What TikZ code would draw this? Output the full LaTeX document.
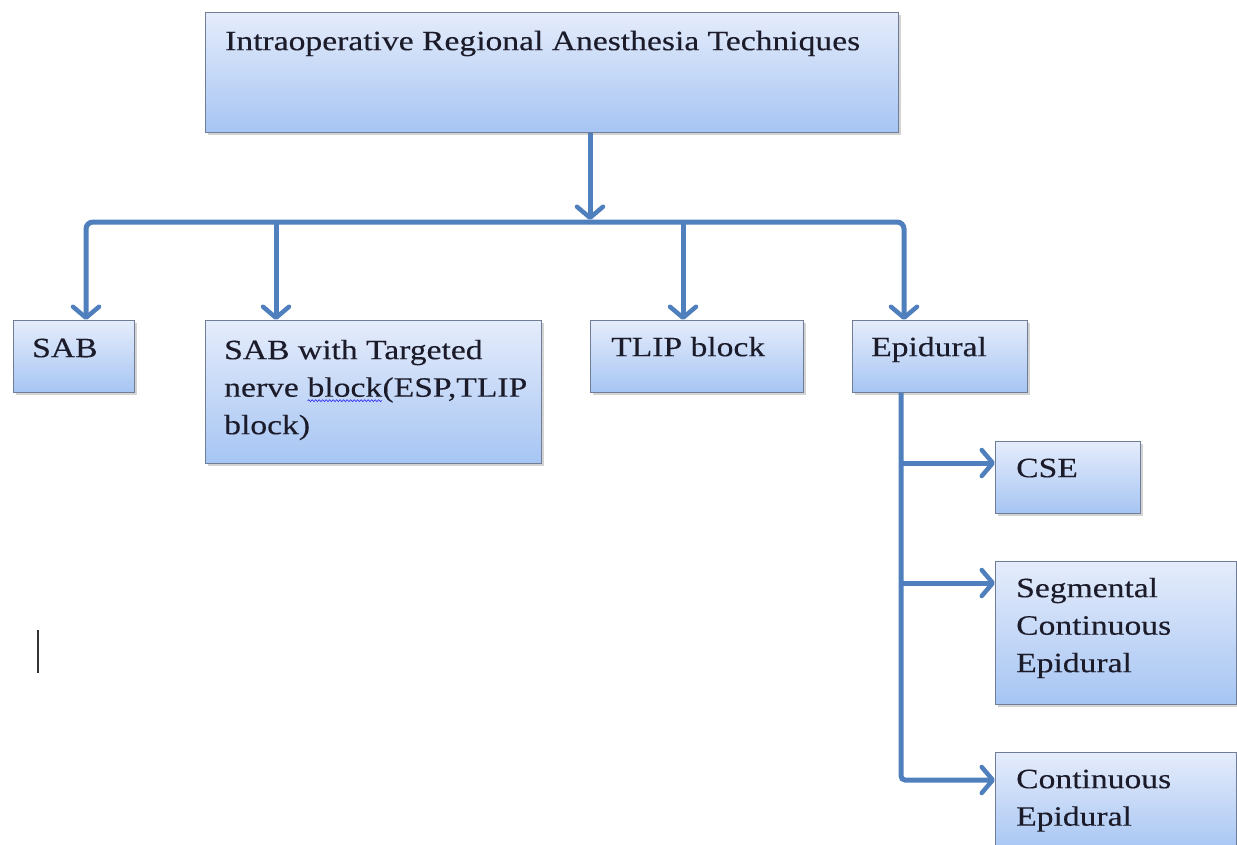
\documentclass[tikz,border=0pt]{standalone}
\usepackage{fontspec}
\setmainfont[FakeStretch=1.2,FakeBold=0.25]{Liberation Serif}
\usetikzlibrary{shadows,arrows.meta,decorations.pathmorphing}
\definecolor{boxtop}{HTML}{E5ECFB}
\definecolor{boxbot}{HTML}{A6C5F3}
\definecolor{boxborder}{HTML}{6F7E96}
\definecolor{linecol}{HTML}{4F7FBC}
\definecolor{textcol}{HTML}{1B1B2A}
\newcommand\spellwave[1]{\tikz[baseline=(w.base)]{\node[inner sep=0pt,outer sep=0pt](w){#1};\draw[blue!80, line width=0.7pt, decorate, decoration={snake, amplitude=0.9pt, segment length=3.5pt}] ([yshift=-4pt]w.base west) -- ([yshift=-4pt]w.base east);}}
\newcommand\fl{\rule{0pt}{21pt}}
\tikzset{
  box/.style={draw=boxborder, line width=1.2pt, top color=boxtop, bottom color=boxbot,
    drop shadow={shadow xshift=2.5pt, shadow yshift=-2.5pt, opacity=0.35},
    anchor=north west, inner sep=0pt},
  txt/.style={anchor=north west, align=left, font=\fontsize{28}{37.5}\selectfont, inner sep=0pt, text=textcol},
  conn/.style={draw=linecol, line width=5pt},
  arr/.style={conn, -{Straight Barb[length=11pt,width=26pt,line width=4.5pt,round]}}
}
\begin{document}
\begin{tikzpicture}[x=1pt,y=-1pt]
\useasboundingbox (0,0) rectangle (1237,844);
% boxes
\node[box, minimum width=693pt, minimum height=120pt] (top) at (205,12) {};
\node[box, minimum width=121pt, minimum height=72pt] (sab) at (13,320) {};
\node[box, minimum width=336pt, minimum height=143pt] (sabt) at (205,320) {};
\node[box, minimum width=213pt, minimum height=72pt] (tlip) at (590,320) {};
\node[box, minimum width=175pt, minimum height=72pt] (epi) at (852,320) {};
\node[box, minimum width=145pt, minimum height=72pt] (cse) at (995,441) {};
\node[box, minimum width=241pt, minimum height=143pt] (seg) at (995,561) {};
\node[box, minimum width=241pt, minimum height=100pt] (cont) at (995,752) {};
% texts
\node[txt] (ttop) at ([shift={(20pt,-17pt)}]top.north west) {\fl Intraoperative Regional Anesthesia Techniques};
\node[txt] (tsab) at ([shift={(19pt,-16pt)}]sab.north west) {\fl SAB};
\node[txt] (tsabt) at ([shift={(19pt,-18pt)}]sabt.north west) {\fl SAB with Targeted\\nerve \spellwave{block}(ESP,TLIP\\block)};
\node[txt] (ttlip) at ([shift={(21pt,-15pt)}]tlip.north west) {\fl TLIP block};
\node[txt] (tepi) at ([shift={(19pt,-15pt)}]epi.north west) {\fl Epidural};
\node[txt] (tcse) at ([shift={(21pt,-15pt)}]cse.north west) {\fl CSE};
\node[txt] (tseg) at ([shift={(21pt,-15pt)}]seg.north west) {\fl Segmental\\Continuous\\Epidural};
\node[txt] (tcont) at ([shift={(21pt,-15pt)}]cont.north west) {\fl Continuous\\Epidural};
% connector coordinates
\coordinate (bar) at (590,222);
\coordinate (b1) at (86,222);
\coordinate (b2) at (276,222);
\coordinate (b3) at (683,222);
\coordinate (b4) at (904,222);
\coordinate (e1) at (901,463);
\coordinate (e2) at (901,583);
\coordinate (e3) at (901,780);
% connectors
\draw[arr, rounded corners=7pt] (bar) -- (b1) -- (b1 |- sab.north);
\draw[arr, rounded corners=7pt] (bar) -- (b4) -- (b4 |- epi.north);
\draw[arr] (top.south -| bar) -- ([yshift=2pt]bar);
\draw[arr] (b2) -- (b2 |- sabt.north);
\draw[arr] (b3) -- (b3 |- tlip.north);
\draw[arr, rounded corners=4pt] (epi.south -| e1) -- (e3) -- (e3 -| cont.west);
\draw[arr] (e1) -- (e1 -| cse.west);
\draw[arr] (e2) -- (e2 -| seg.west);
% text cursor
\draw[line width=1.6pt, black!80] (38,630) -- (38,673);
\end{tikzpicture}
\end{document}
